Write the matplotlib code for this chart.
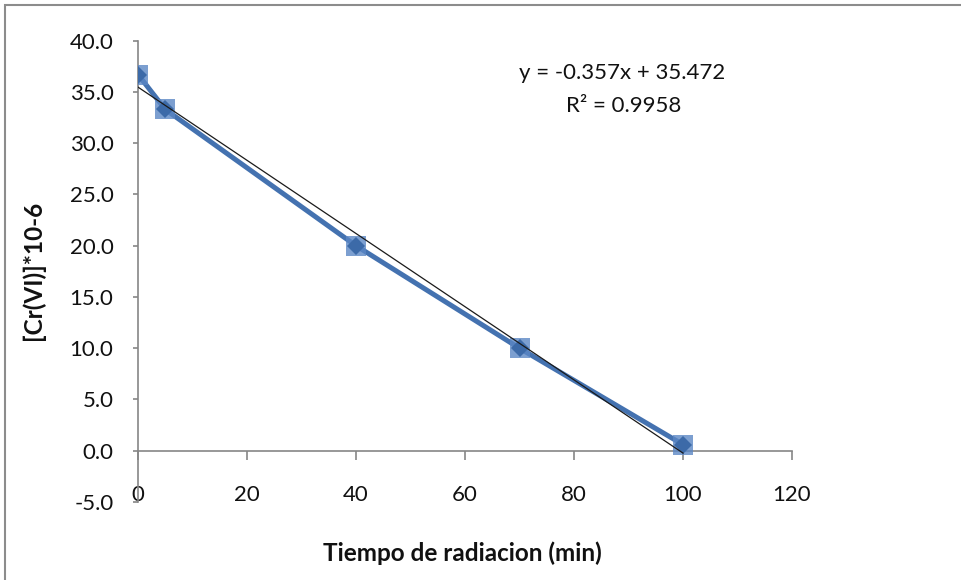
import numpy as np
import matplotlib
matplotlib.use("Agg")
import matplotlib.pyplot as plt
from matplotlib.patches import Rectangle

# Cr(VI) concentration over irradiation time
tiempo = [0, 5, 40, 70, 100]
conc = [36.7, 33.3, 20.0, 10.0, 0.6]

# linear trendline reported on the chart
slope = -0.357
intercept = 35.472
r2 = 0.9958

x_ticks = [0, 20, 40, 60, 80, 100, 120]
y_ticks = [-5, 0, 5, 10, 15, 20, 25, 30, 35, 40]

plt.rcParams["font.family"] = ["Lato", "DejaVu Sans"]

W, H = 961, 580
fig = plt.figure(figsize=(W / 100, H / 100), dpi=100)

# outer chart frame
frame = Rectangle((5 / W, -0.2), 1.2, 1.2 - 5 / H, transform=fig.transFigure,
                  fill=False, edgecolor="#8c8c8c", linewidth=1.5, clip_on=False)
fig.patches.append(frame)

ax = fig.add_axes([138 / W, 1 - 502 / H, 654 / W, (502 - 40.7) / H])
ax.set_xlim(0, 120)
ax.set_ylim(-5, 40)

axis_gray = "#868686"
for side in ["top", "right"]:
    ax.spines[side].set_visible(False)
ax.spines["left"].set_color(axis_gray)
ax.spines["bottom"].set_color(axis_gray)
ax.spines["bottom"].set_position(("data", 0))
ax.spines["left"].set_linewidth(1.2)
ax.spines["bottom"].set_linewidth(1.2)

ax.set_xticks(x_ticks)
ax.set_xticklabels([str(v) for v in x_ticks])
ax.set_yticks(y_ticks)
ax.set_yticklabels([f"{v:.1f}" for v in y_ticks])
ax.tick_params(axis="x", direction="out", length=6.5, width=1.2, color=axis_gray,
               pad=18, labelsize=16, labelcolor="#111111")
ax.tick_params(axis="y", direction="out", length=3.6, width=1.2, color=axis_gray,
               pad=14, labelsize=16, labelcolor="#111111")

# data series: thick line with square glow under diamond markers
ax.plot(tiempo, conc, color="#4472b0", linewidth=3.6, solid_capstyle="round",
        zorder=3)
ax.plot(tiempo, conc, linestyle="none", marker="s", markersize=14.4,
        color="#5b87c5", alpha=0.8, markeredgewidth=0, zorder=4)
ax.plot(tiempo, conc, linestyle="none", marker="D", markersize=9,
        color="#3c6aa8", markeredgewidth=0, zorder=5)

# trendline over the data range
xt = np.array([min(tiempo), max(tiempo)])
ax.plot(xt, slope * xt + intercept, color="#1a1a1a", linewidth=0.9, zorder=6)

sign = "-" if intercept < 0 else "+"
fig.text(622 / W, 1 - 79 / H, f"y = {slope:.3f}x {sign} {abs(intercept):.3f}",
         ha="center", va="baseline", fontsize=16, color="#111111")
fig.text(624 / W, 1 - 112 / H, f"R² = {r2:.4f}",
         ha="center", va="baseline", fontsize=16, color="#111111")

fig.text(462 / W, 1 - 561 / H, "Tiempo de radiacion (min)", ha="center",
         va="baseline", fontsize=17.5, fontweight="bold", color="#111111")
fig.text(33 / W, 1 - 270 / H, "[Cr(VI)]*10-6", ha="center", va="center",
         rotation=90, fontsize=17.5, fontweight="bold", color="#111111")

fig.savefig("out.png", dpi=100)
